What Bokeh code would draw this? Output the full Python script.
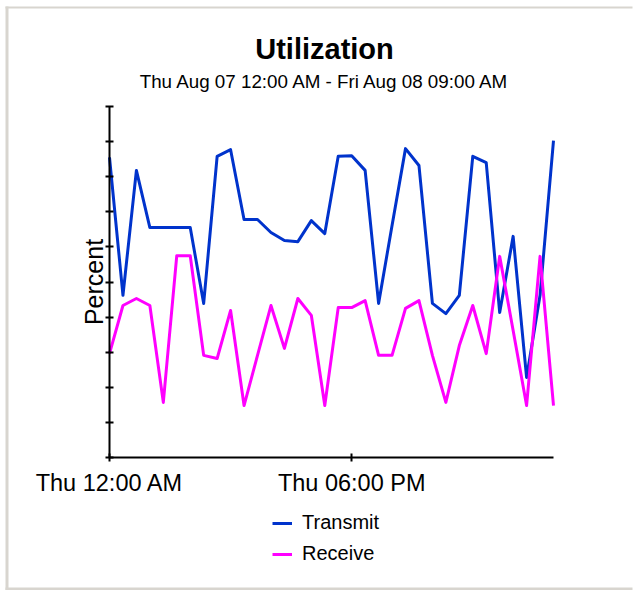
import math
from bokeh.plotting import figure
from bokeh.models import FixedTicker, Label, Legend, LegendItem, Range1d
from bokeh.embed import file_html
from bokeh.resources import INLINE

# ---- data (hours since Thu Aug 07 12:00 AM) ----
hours = list(range(34))
transmit = [85.5, 46.2, 81.8, 65.5, 65.5, 65.5, 65.5, 43.9, 85.8, 87.7,
            67.8, 67.8, 64.1, 61.8, 61.5, 67.5, 63.8, 85.8, 86.0, 81.8,
            43.9, 66.1, 88.0, 83.2, 43.9, 41.0, 46.2, 85.8, 84.0, 41.3,
            63.0, 22.8, 46.2, 90.3]
receive = [29.6, 43.3, 45.3, 43.3, 15.7, 57.5, 57.5, 29.1, 28.2, 41.9,
           14.8, 29.1, 43.3, 31.1, 45.3, 40.5, 14.8, 42.7, 42.7, 44.7,
           29.1, 29.1, 42.5, 44.7, 29.1, 15.7, 31.9, 43.3, 29.6, 57.3,
           36.2, 14.8, 57.3, 14.8]
x_tick_values = [0, 18]
x_tick_labels = ["Thu 12:00 AM", "Thu 06:00 PM"]
y_tick_values = [0, 10, 20, 30, 40, 50, 60, 70, 80, 90, 100]
x_bounds = (0, 33)
y_bounds = (0, 100)
series_names = ["Transmit", "Receive"]
series_colors = ["#0033cc", "#ff00ff"]
title_text = "Utilization"
subtitle_text = "Thu Aug 07 12:00 AM - Fri Aug 08 09:00 AM"
y_label = "Percent"

FONT = "Liberation Sans"
W, H = 640, 590
BR, BT = 8, 6                       # right / top borders (axes panels live there)
# pixel layout of the data area
AX_L, AX_R, AX_T, AX_B = 109, 553, 106, 457
PX_X = (AX_R - AX_L) / (x_bounds[1] - x_bounds[0])
PX_Y = (AX_B - AX_T) / (y_bounds[1] - y_bounds[0])
x_start = x_bounds[0] - AX_L / PX_X
x_end = x_start + (W - BR) / PX_X
y_end = y_bounds[1] + (AX_T - BT) / PX_Y
y_start = y_bounds[0] - (H - AX_B) / PX_Y


def px2x(px):
    return x_start + px / PX_X


def px2y(py):
    return y_end - (py - BT) / PX_Y


p = figure(width=W, height=H, output_backend="svg", toolbar_location=None,
           x_range=Range1d(x_start, x_end), y_range=Range1d(y_start, y_end),
           x_axis_location="above", y_axis_location="right",
           min_border_left=0, min_border_right=BR,
           min_border_top=BT, min_border_bottom=0)
p.outline_line_color = None
p.grid.visible = False
p.background_fill_color = "white"
p.border_fill_color = "white"

# panel frame (light grey border on left, top and bottom), clipped by the plot area
BORDER = "#d8d5cf"
strips = [(5, 8, 5, H), (5, W + 40, 5, 8), (5, W + 40, H - 3, H + 5)]
p.quad(left=[px2x(s[0]) for s in strips], right=[px2x(s[1]) for s in strips],
       top=[px2y(s[2]) for s in strips], bottom=[px2y(s[3]) for s in strips],
       fill_color=BORDER, line_color=None)

r1 = p.line(hours, transmit, line_color=series_colors[0], line_width=3, line_join="round")
r2 = p.line(hours, receive, line_color=series_colors[1], line_width=3, line_join="round")


def style_axis(ax, ticks, loc, bounds):
    ax.fixed_location = loc
    ax.bounds = bounds
    ax.ticker = FixedTicker(ticks=ticks)
    ax.minor_tick_line_color = None
    ax.major_tick_in = 4
    ax.major_tick_out = 4
    ax.major_tick_line_width = 2
    ax.major_tick_line_color = "black"
    ax.axis_line_width = 2
    ax.axis_line_color = "black"
    ax.major_label_text_font_size = "0px"
    ax.major_label_text_color = None
    ax.major_label_standoff = 0


style_axis(p.xaxis[0], x_tick_values, y_bounds[0], x_bounds)
style_axis(p.yaxis[0], y_tick_values, x_bounds[0], y_bounds)

# x tick labels under each tick
for v, t in zip(x_tick_values, x_tick_labels):
    p.add_layout(Label(x=v, y=px2y(482), text=t,
                       text_font=FONT, text_font_size="23.5px", text_color="black",
                       text_align="center", text_baseline="middle"))

# y axis title
p.add_layout(Label(x=px2x(93), y=(y_bounds[0] + y_bounds[1]) / 2, text=y_label,
                   angle=math.pi / 2, text_font=FONT, text_font_size="25px",
                   text_color="black", text_align="center", text_baseline="middle"))

# titles
p.add_layout(Label(x=px2x(324), y=px2y(48), text=title_text, text_font=FONT,
                   text_font_size="29px", text_font_style="bold", text_align="center",
                   text_baseline="middle", text_color="black"))
p.add_layout(Label(x=px2x(325), y=px2y(81), text=subtitle_text, text_font=FONT,
                   text_font_size="18.8px", text_align="center", text_baseline="middle",
                   text_color="black"))

legend = Legend(items=[LegendItem(label=series_names[0], renderers=[r1]),
                       LegendItem(label=series_names[1], renderers=[r2])],
                location=(272, H - 565), orientation="vertical",
                border_line_color=None, background_fill_alpha=0,
                padding=0, margin=0, spacing=8,
                glyph_width=20, glyph_height=20, label_height=20,
                label_standoff=10, label_text_font=FONT,
                label_text_font_size="20px", label_text_color="black")
p.add_layout(legend, "center")

open("out.html", "w").write(file_html(p, INLINE))
